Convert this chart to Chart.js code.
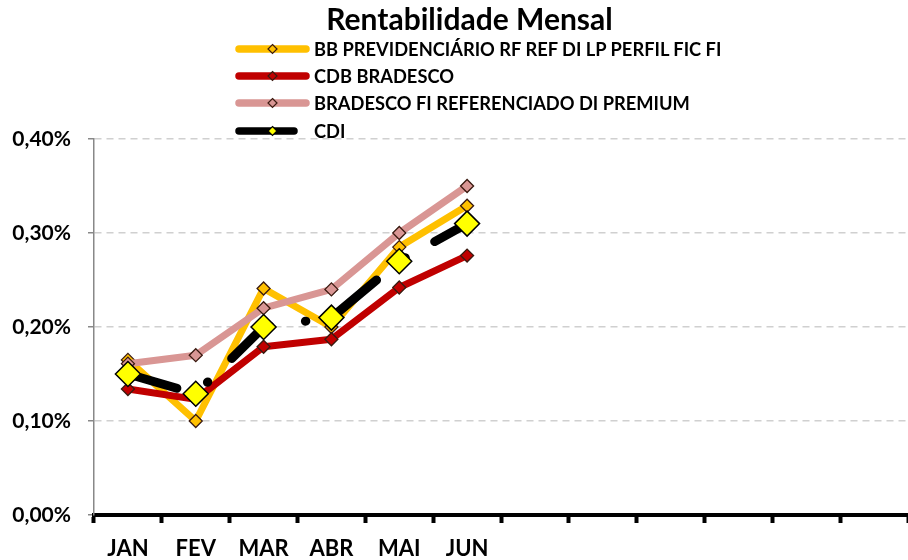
<!DOCTYPE html>
<html>
<head>
<meta charset="utf-8">
<script src="https://cdn.jsdelivr.net/npm/chart.js@4/dist/chart.umd.min.js"></script>
<style>
  html, body { margin: 0; padding: 0; background: #fff; overflow: hidden; }
  #wrap { position: relative; width: 908px; height: 560px; }
  #title {
    position: absolute; left: 0; top: 0px; width: 939px; text-align: center;
    font: bold 30px Lato, sans-serif; color: #000;
  }
  #legend { position: absolute; left: 235px; top: 35px; }
  .item { display: flex; align-items: center; height: 27.3px; }
  .item span { font: bold 18.3px Lato, sans-serif; color: #000; white-space: nowrap; }
</style>
</head>
<body>
<div id="wrap">
  <canvas id="chart" width="908" height="560"></canvas>
  <div id="title">Rentabilidade Mensal</div>
  <div id="legend"></div>
</div>
<script>
const months = ["JAN", "FEV", "MAR", "ABR", "MAI", "JUN", "", "", "", "", "", ""];
const yTicks = [0, 0.1, 0.2, 0.3, 0.4];

const bbPrev = [0.165, 0.100, 0.241, 0.200, 0.285, 0.329];
const cdbBradesco = [0.134, 0.123, 0.179, 0.187, 0.242, 0.276];
const bradescoPremium = [0.161, 0.170, 0.220, 0.240, 0.300, 0.350];
const cdi = [0.150, 0.129, 0.200, 0.210, 0.270, 0.310];

const seriesNames = [
  "BB PREVIDENCIÁRIO RF REF DI LP PERFIL FIC FI",
  "CDB BRADESCO",
  "BRADESCO FI REFERENCIADO DI PREMIUM",
  "CDI",
];

const lineSeries = (label, data, color, order) => ({
  label,
  data,
  borderColor: color,
  backgroundColor: color,
  borderWidth: 7,
  borderCapStyle: "round",
  borderJoinStyle: "round",
  pointStyle: "rectRot",
  pointRadius: 6.5,
  pointBorderColor: "#3a1a10",
  pointBorderWidth: 1.3,
  pointBackgroundColor: color,
  tension: 0,
  order,
});

const cdiSeries = {
  label: seriesNames[3],
  data: cdi,
  borderColor: "#000",
  borderWidth: 9,
  borderCapStyle: "round",
  borderJoinStyle: "round",
  borderDash: [51, 36, 0.5, 33.5],
  pointStyle: "rectRot",
  pointRadius: 12.5,
  pointBorderColor: "#000",
  pointBorderWidth: 1.5,
  pointBackgroundColor: "#ffff00",
  tension: 0,
  order: 0,
};

new Chart(document.getElementById("chart"), {
  type: "line",
  data: {
    labels: months,
    datasets: [
      lineSeries(seriesNames[0], bbPrev, "#ffc000", 3),
      lineSeries(seriesNames[1], cdbBradesco, "#c00000", 2),
      lineSeries(seriesNames[2], bradescoPremium, "#d99694", 1),
      cdiSeries,
    ],
  },
  options: {
    responsive: false,
    animation: false,
    layout: { autoPadding: false, padding: { top: 139, right: 0, left: 0, bottom: 0 } },
    plugins: {
      legend: { display: false },
      title: { display: false },
      tooltip: { enabled: false },
    },
    scales: {
      x: {
        offset: true,
        grid: {
          offset: true,
          drawOnChartArea: false,
          drawTicks: true,
          tickLength: 8,
          tickWidth: 4,
          tickColor: "#000",
        },
        border: { color: "#000", width: 4 },
        ticks: {
          color: "#000",
          font: { family: "Lato", weight: "bold", size: 22 },
          padding: 13,
          maxRotation: 0,
          autoSkip: false,
        },
        afterFit: (scale) => {
          scale.height = 45;
          scale.paddingRight = 0;
          scale.paddingLeft = 0;
        },
      },
      y: {
        min: 0,
        max: 0.4,
        afterBuildTicks: (scale) => { scale.ticks = yTicks.map((v) => ({ value: v })); },
        grid: {
          color: "#d0d0d0",
          lineWidth: 1.5,
          tickLength: 6,
          tickColor: "#888",
          tickBorderDash: [],
        },
        border: { color: "#888", width: 1.5, dash: [7, 5] },
        ticks: {
          color: "#000",
          font: { family: "Lato", weight: "bold", size: 21 },
          padding: 17,
          callback: (v) => v.toFixed(2).replace(".", ",") + "%",
        },
        afterFit: (scale) => { scale.width = 94; },
      },
    },
  },
});

// legend built from the series names
const legendColors = [
  ["#ffc000", "#ffc000", "#3a1a10", 75],
  ["#c00000", "#c00000", "#3a1a10", 75],
  ["#d99694", "#d99694", "#3a1a10", 75],
  ["#000", "#ffff00", "#000", 63],
];
const legend = document.getElementById("legend");
seriesNames.forEach((name, i) => {
  const [line, fill, stroke, w] = legendColors[i];
  const row = document.createElement("div");
  row.className = "item";
  const mid = 37.5;
  row.innerHTML =
    `<svg width="79" height="14" viewBox="0 0 79 14">` +
    `<line x1="4" y1="7" x2="${w - 4}" y2="7" stroke="${line}" stroke-width="7.5" stroke-linecap="round"/>` +
    `<polygon points="${mid},2.5 ${mid + 4.5},7 ${mid},11.5 ${mid - 4.5},7" fill="${fill}" stroke="${stroke}" stroke-width="1.2"/>` +
    `</svg><span>${name}</span>`;
  legend.appendChild(row);
});
</script>
</body>
</html>
